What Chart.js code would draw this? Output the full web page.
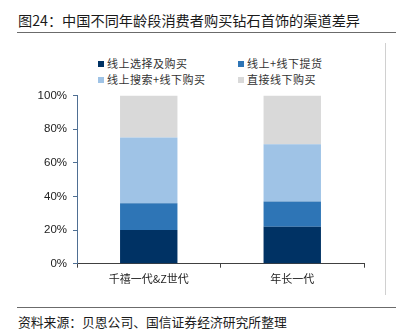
<!DOCTYPE html>
<html>
<head>
<meta charset="utf-8">
<script src="https://cdn.jsdelivr.net/npm/chart.js@4"></script>
<style>
  body { margin: 0; background: #fff; width: 408px; height: 336px; position: relative; overflow: hidden;
         font-family: "Noto Sans CJK SC", "Liberation Sans", sans-serif; }
  #titulo { position: absolute; left: 18px; top: 10px; font-size: 14.2px; color: #1a1a1a; white-space: nowrap; }
  #lineaTop { position: absolute; left: 17px; top: 32px; width: 379px; height: 1px; background: #6b6b6b; }
  #lineaDer { position: absolute; left: 385px; top: 43px; width: 1px; height: 252px; background: #d0d0d0; }
  #lineaBot { position: absolute; left: 17px; top: 307px; width: 379px; height: 1px; background: #6b6b6b; }
  #fuente { position: absolute; left: 18px; top: 312px; font-size: 12.8px; color: #1a1a1a; white-space: nowrap; }
  #leyenda { position: absolute; left: 98px; top: 56px; width: 240px; font-size: 11px; color: #333; }
  .item { position: absolute; white-space: nowrap; line-height: 15px; letter-spacing: 0.5px; }
  .caja { display: inline-block; width: 6px; height: 6px; margin-right: 3px; vertical-align: 1px; }
  #contenedor { position: absolute; left: 0; top: 80px; width: 370px; height: 220px; }
</style>
</head>
<body>
<div id="titulo">图24：中国不同年龄段消费者购买钻石首饰的渠道差异</div>
<div id="lineaTop"></div>
<div id="lineaDer"></div>
<div id="leyenda"></div>
<div id="contenedor"><canvas id="grafica"></canvas></div>
<div id="lineaBot"></div>
<div id="fuente">资料来源：贝恩公司、国信证券经济研究所整理</div>
<script>
// categorías (grupos de edad)
const categorias = ['千禧一代&Z世代', '年长一代'];

// series (porcentajes)
const seriesNombres = ['线上选择及购买', '线上+线下提货', '线上搜索+线下购买', '直接线下购买'];
const onlineCompra = [20, 22];
const onlineRecoge = [16, 15];
const buscaOnline = [39, 34];
const soloTienda = [25, 29];

const colores = ['#003264', '#2e75b6', '#9fc3e6', '#d9d9d9'];
const valoresTicks = [0, 20, 40, 60, 80, 100];

const datosSeries = [onlineCompra, onlineRecoge, buscaOnline, soloTienda];

// leyenda en 2 columnas
const leyenda = document.getElementById('leyenda');
seriesNombres.forEach((nombre, i) => {
  const item = document.createElement('div');
  item.className = 'item';
  item.style.left = (i % 2) * 140 + 'px';
  item.style.top = Math.floor(i / 2) * 16 + 'px';
  item.innerHTML = '<span class="caja" style="background:' + colores[i] + '"></span>' + nombre;
  leyenda.appendChild(item);
});

new Chart(document.getElementById('grafica'), {
  type: 'bar',
  data: {
    labels: categorias,
    datasets: datosSeries.map((d, i) => ({
      label: seriesNombres[i],
      data: d,
      backgroundColor: colores[i],
      borderWidth: 0,
      barPercentage: 0.4,
      categoryPercentage: 1
    }))
  },
  options: {
    responsive: true,
    maintainAspectRatio: false,
    animation: false,
    layout: { padding: { top: 15.5, right: 6, left: 0, bottom: 0 } },
    plugins: { legend: { display: false }, tooltip: { enabled: false } },
    scales: {
      x: {
        stacked: true,
        afterFit: s => { s.height = 36.3; },
        grid: { offset: true, drawOnChartArea: false, drawTicks: true, tickLength: 4, color: '#404040' },
        border: { color: '#404040', width: 1 },
        ticks: { color: '#222', padding: 5, font: { family: '"Noto Sans CJK SC"', size: 11 } }
      },
      y: {
        stacked: true,
        min: 0,
        max: 100,
        afterFit: s => { s.width = 77; },
        afterBuildTicks: s => { s.ticks = valoresTicks.map(v => ({ value: v })); },
        grid: { drawOnChartArea: false, drawTicks: true, tickLength: 4, color: '#4f6f93' },
        border: { color: '#4f6f93', width: 1 },
        ticks: {
          color: '#222', padding: 6,
          font: { family: '"Liberation Sans", Arial', size: 11.5 },
          callback: v => v + '%'
        }
      }
    }
  }
});
</script>
</body>
</html>
